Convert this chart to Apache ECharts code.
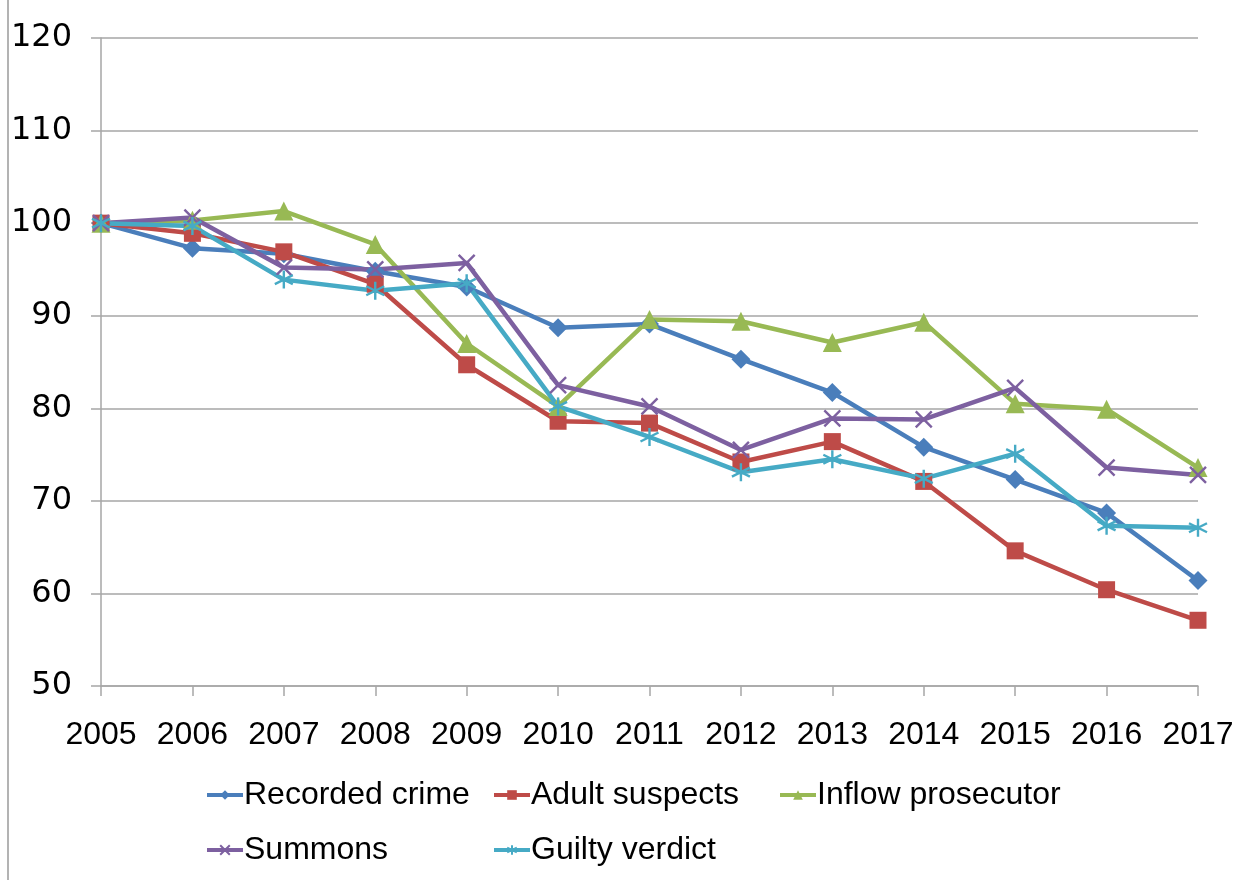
<!DOCTYPE html>
<html>
<head>
<meta charset="utf-8">
<script src="https://cdn.jsdelivr.net/npm/echarts@6/dist/echarts.min.js"></script>
<style>
html,body{margin:0;padding:0;background:#fff;}
#chart{width:1239px;height:880px;}
</style>
</head>
<body>
<div id="chart"></div>
<script>
// Index (2005 = 100) of criminal justice flows
const years = ['2005','2006','2007','2008','2009','2010','2011','2012','2013','2014','2015','2016','2017'];
const recordedCrime    = [100, 97.3, 96.7, 94.8, 93.1, 88.7, 89.1, 85.3, 81.7, 75.8, 72.3, 68.7, 61.4];
const adultSuspects    = [100, 98.9, 96.9, 93.4, 84.7, 78.6, 78.4, 74.2, 76.4, 72.1, 64.6, 60.4, 57.1];
const inflowProsecutor = [100, 100.3, 101.3, 97.7, 87.0, 80.2, 89.6, 89.4, 87.1, 89.3, 80.5, 79.9, 73.6];
const summons          = [100, 100.6, 95.2, 95.0, 95.7, 82.5, 80.2, 75.5, 78.9, 78.8, 82.2, 73.6, 72.8];
const guiltyVerdict    = [100, 99.7, 93.9, 92.7, 93.5, 80.2, 76.9, 73.1, 74.5, 72.4, 75.1, 67.3, 67.1];
const yTicks = { min: 50, max: 120, step: 10 };

const CROSS = 'path://M0,0L10,10M10,0L0,10';
const STAR = 'path://M5,0L5,10M0.8,2.5L9.2,7.5M9.2,2.5L0.8,7.5';

const textFont = "'Liberation Sans',Arial,sans-serif";

function lineSeries(name, data, color, symbol, size, stroked) {
  return {
    name: name,
    type: 'line',
    data: data,
    symbol: symbol,
    symbolSize: size,
    showAllSymbol: true,
    lineStyle: { color: color, width: 4.5 },
    itemStyle: stroked
      ? { color: color, borderColor: color, borderWidth: 2.4 }
      : { color: color, borderWidth: 0 },
    emphasis: { disabled: true },
    animation: false
  };
}

const series = [
  lineSeries('Recorded crime', recordedCrime, '#4A7EBB', 'diamond', 19, false),
  lineSeries('Adult suspects', adultSuspects, '#BE4B48', 'rect', 17, false),
  lineSeries('Inflow prosecutor', inflowProsecutor, '#98B954', 'triangle', 19, false),
  lineSeries('Summons', summons, '#7D60A0', CROSS, 16, true),
  lineSeries('Guilty verdict', guiltyVerdict, '#46AAC5', STAR, 18, true)
];

function legendAt(name, left, top) {
  return {
    data: [name],
    left: left,
    top: top,
    itemWidth: 36,
    itemHeight: 12,
    itemGap: 0,
    padding: 0,
    selectedMode: false,
    lineStyle: { width: 4 },
    textStyle: { fontFamily: textFont, fontSize: 32, color: '#000', padding: [0, 0, 0, -4] }
  };
}

const chart = echarts.init(document.getElementById('chart'), null, { renderer: 'canvas' });
chart.setOption({
  backgroundColor: '#fff',
  animation: false,
  grid: { left: 101, right: 41, top: 38, bottom: 194, containLabel: false },
  legend: [
    legendAt('Recorded crime', 205, 779),
    legendAt('Adult suspects', 492, 779),
    legendAt('Inflow prosecutor', 778, 779),
    legendAt('Summons', 205, 834),
    legendAt('Guilty verdict', 492, 834)
  ],
  xAxis: {
    type: 'category',
    data: years,
    boundaryGap: false,
    axisLine: { lineStyle: { color: '#A6A6A6', width: 1.5 } },
    axisTick: { show: true, length: 10, inside: false, interval: 0, lineStyle: { color: '#A6A6A6', width: 1.5 } },
    axisLabel: { fontFamily: textFont, fontSize: 32, color: '#000', margin: 33, interval: 0 },
    splitLine: { show: false }
  },
  yAxis: {
    type: 'value',
    min: yTicks.min,
    max: yTicks.max,
    interval: yTicks.step,
    axisLine: { show: true, lineStyle: { color: '#A6A6A6', width: 1.5 } },
    axisTick: { show: true, length: 10, lineStyle: { color: '#A6A6A6', width: 1.5 } },
    axisLabel: { fontFamily: "'DejaVu Sans',sans-serif", fontSize: 32, color: '#000', margin: 29, padding: [4, 0, 0, 0] },
    splitLine: { show: true, lineStyle: { color: '#A6A6A6', width: 1.5 } }
  },
  graphic: [
    { type: 'line', shape: { x1: 8, y1: 0, x2: 8, y2: 880 }, style: { stroke: '#9A9A9A', lineWidth: 1.5 }, silent: true }
  ],
  series: series
});
</script>
</body>
</html>
